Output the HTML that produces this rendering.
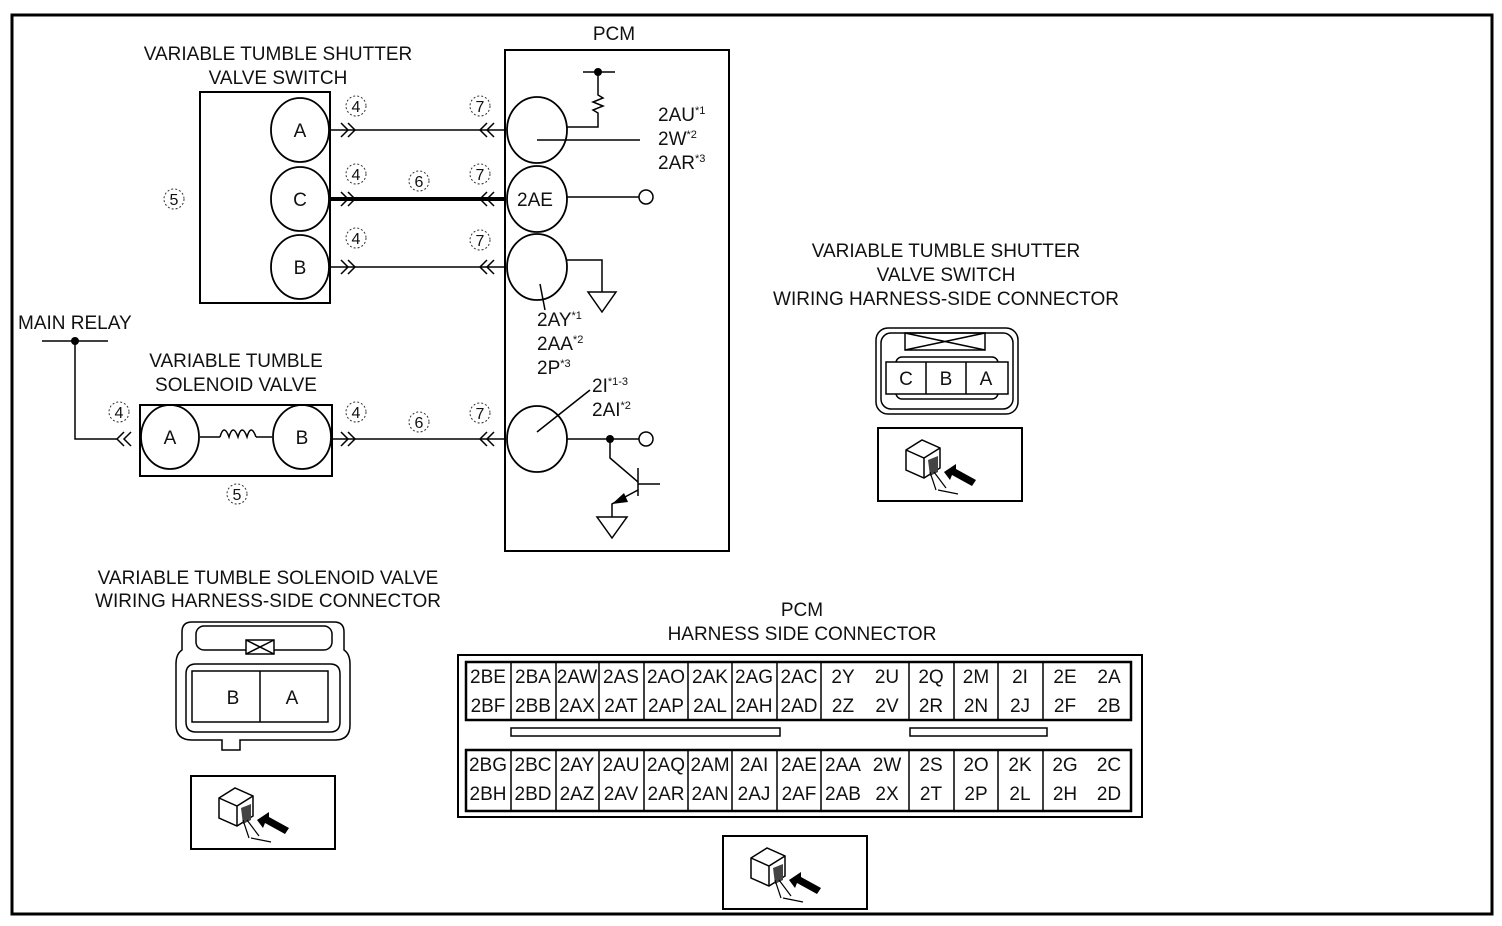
<!DOCTYPE html>
<html><head><meta charset="utf-8"><style>
html,body{margin:0;padding:0;background:#fff;}
svg{display:block;}
text{font-family:"Liberation Sans Narrow","Liberation Sans",sans-serif;font-size:19px;fill:#111;}
.c{text-anchor:middle;}
.n text{font-size:16px;}
.n circle{fill:none;stroke:#333;stroke-width:1;stroke-dasharray:2 2;}
</style></head><body>
<svg width="1502" height="926" viewBox="0 0 1502 926" xmlns="http://www.w3.org/2000/svg">
<defs>
<g id="icon">
 <rect x="0" y="0" width="144" height="73" fill="#fff" stroke="#000" stroke-width="2"/>
 <path d="M28 22 L44 12 L62 20 L62 40 L46 50 L28 42 Z" fill="#fff" stroke="#000" stroke-width="1.5"/>
 <path d="M28 22 L46 30 L62 20 M46 30 L46 50" fill="none" stroke="#000" stroke-width="1.5"/>
 <path d="M50 32 L60 28 L60 44 L52 48 Z" fill="#444"/>
 <path d="M52 44 L58 62 M56 44 L68 60 M60 62 L80 66" stroke="#000" stroke-width="1.2" fill="none"/>
 <path d="M66 44 L78 36 L78 41 L98 52 L94 58 L74 47 L72 52 Z" fill="#000"/>
</g>
<g id="ch2"><path d="M0 -7 L7 0 L0 7 M7 -7 L14 0 L7 7" fill="none" stroke="#000" stroke-width="1.5"/></g>
<g id="cl2"><path d="M14 -7 L7 0 L14 7 M7 -7 L0 0 L7 7" fill="none" stroke="#000" stroke-width="1.5"/></g>
</defs>
<rect x="12" y="15" width="1480" height="899" fill="none" stroke="#000" stroke-width="3"/>

<!-- switch -->
<text x="278" y="60" class="c">VARIABLE TUMBLE SHUTTER</text>
<text x="278" y="84" class="c">VALVE SWITCH</text>
<rect x="200" y="92" width="130" height="211" fill="none" stroke="#000" stroke-width="2"/>
<g fill="none" stroke="#000" stroke-width="1.8">
<ellipse cx="300" cy="130" rx="29" ry="32"/><ellipse cx="300" cy="199" rx="29" ry="32"/><ellipse cx="300" cy="267" rx="29" ry="32"/>
</g>
<text x="300" y="137" class="c">A</text><text x="300" y="206" class="c">C</text><text x="300" y="274" class="c">B</text>

<!-- PCM -->
<text x="614" y="40" class="c">PCM</text>
<rect x="505" y="50" width="224" height="501" fill="none" stroke="#000" stroke-width="2"/>
<g fill="none" stroke="#000" stroke-width="1.8">
<ellipse cx="537" cy="130" rx="30" ry="33"/><ellipse cx="537" cy="199" rx="30" ry="33"/><ellipse cx="537" cy="267" rx="30" ry="33"/><ellipse cx="537" cy="439" rx="30" ry="33"/>
</g>
<text x="535" y="206" class="c">2AE</text>

<!-- wires -->
<g stroke="#000" fill="none">
<line x1="330" y1="130" x2="505" y2="130" stroke-width="1.5"/>
<line x1="330" y1="199" x2="505" y2="199" stroke-width="4"/>
<line x1="330" y1="267" x2="505" y2="267" stroke-width="1.5"/>
<line x1="332" y1="439" x2="505" y2="439" stroke-width="1.5"/>
</g>
<use href="#ch2" x="341" y="130"/><use href="#ch2" x="341" y="199"/><use href="#ch2" x="341" y="267"/><use href="#ch2" x="341" y="439"/>
<use href="#cl2" x="480" y="130"/><use href="#cl2" x="480" y="199"/><use href="#cl2" x="480" y="267"/><use href="#cl2" x="480" y="439"/>
<g class="n">
<circle cx="356" cy="106" r="10"/><text x="356" y="112" class="c">4</text>
<circle cx="356" cy="174" r="10"/><text x="356" y="180" class="c">4</text>
<circle cx="356" cy="238" r="10"/><text x="356" y="244" class="c">4</text>
<circle cx="356" cy="412" r="10"/><text x="356" y="418" class="c">4</text>
<circle cx="119" cy="412" r="10"/><text x="119" y="418" class="c">4</text>
<circle cx="480" cy="106" r="10"/><text x="480" y="112" class="c">7</text>
<circle cx="480" cy="174" r="10"/><text x="480" y="180" class="c">7</text>
<circle cx="480" cy="240" r="10"/><text x="480" y="246" class="c">7</text>
<circle cx="480" cy="413" r="10"/><text x="480" y="419" class="c">7</text>
<circle cx="419" cy="181" r="10"/><text x="419" y="187" class="c">6</text>
<circle cx="419" cy="422" r="10"/><text x="419" y="428" class="c">6</text>
<circle cx="174" cy="199" r="10"/><text x="174" y="205" class="c">5</text>
<circle cx="237" cy="494" r="10"/><text x="237" y="500" class="c">5</text>
</g>

<!-- PCM internals -->
<g stroke="#000" fill="none" stroke-width="1.5">
<line x1="583" y1="72" x2="615" y2="72"/>
<path d="M598 72 L598 95 L603 98 L593 102 L603 106 L593 110 L598 113 L598 127 L567 127"/>
<line x1="537" y1="140" x2="640" y2="140"/>
<line x1="567" y1="197" x2="639" y2="197"/>
<circle cx="646" cy="197" r="7"/>
<path d="M567 260 L602 260 L602 292"/>
<path d="M588 292 L616 292 L602 312 Z"/>
<line x1="540" y1="284" x2="545" y2="310"/>
<line x1="537" y1="432" x2="590" y2="390"/>
<line x1="567" y1="439" x2="639" y2="439"/>
<circle cx="646" cy="439" r="7"/>
<path d="M610 439 L610 458 L638 482"/>
<line x1="638" y1="468" x2="638" y2="496"/>
<line x1="638" y1="484" x2="660" y2="484"/>
<path d="M638 490 L612 504 L612 517"/>
<path d="M597 517 L627 517 L612 538 Z"/>
</g>
<circle cx="598" cy="72" r="4"/>
<circle cx="610" cy="439" r="4"/>
<path d="M612 504 L624 493 L628 502 Z" fill="#000"/>
<text x="658" y="121">2AU<tspan dy="-7" font-size="11">*1</tspan></text>
<text x="658" y="145">2W<tspan dy="-7" font-size="11">*2</tspan></text>
<text x="658" y="169">2AR<tspan dy="-7" font-size="11">*3</tspan></text>
<text x="537" y="326">2AY<tspan dy="-7" font-size="11">*1</tspan></text>
<text x="537" y="350">2AA<tspan dy="-7" font-size="11">*2</tspan></text>
<text x="537" y="374">2P<tspan dy="-7" font-size="11">*3</tspan></text>
<text x="592" y="392">2I<tspan dy="-7" font-size="11">*1-3</tspan></text>
<text x="592" y="416">2AI<tspan dy="-7" font-size="11">*2</tspan></text>

<!-- main relay & solenoid -->
<text x="18" y="329">MAIN RELAY</text>
<g stroke="#000" fill="none" stroke-width="1.5">
<line x1="42" y1="341" x2="108" y2="341"/>
<path d="M75 341 L75 439 L118 439"/>
<line x1="200" y1="437" x2="220" y2="437"/>
<path d="M220 437 q4 -14 9 0 q4 -14 9 0 q4 -14 9 0 q4 -14 9 0"/>
<line x1="256" y1="437" x2="272" y2="437"/>
</g>
<circle cx="75" cy="341" r="4"/>
<use href="#cl2" x="117" y="439"/>
<text x="236" y="367" class="c">VARIABLE TUMBLE</text>
<text x="236" y="391" class="c">SOLENOID VALVE</text>
<rect x="140" y="405" width="192" height="71" fill="none" stroke="#000" stroke-width="2"/>
<ellipse cx="170" cy="437" rx="29" ry="32" fill="none" stroke="#000" stroke-width="1.8"/>
<ellipse cx="302" cy="437" rx="29" ry="32" fill="none" stroke="#000" stroke-width="1.8"/>
<text x="170" y="444" class="c">A</text><text x="302" y="444" class="c">B</text>

<!-- right connector -->
<text x="946" y="257" class="c">VARIABLE TUMBLE SHUTTER</text>
<text x="946" y="281" class="c">VALVE SWITCH</text>
<text x="946" y="305" class="c">WIRING HARNESS-SIDE CONNECTOR</text>
<g stroke="#000" fill="none" stroke-width="1.5">
<rect x="876" y="328" width="142" height="86" rx="12"/>
<rect x="881" y="333" width="132" height="76" rx="10"/>
<rect x="905" y="333" width="80" height="17"/>
<path d="M905 333 L985 350 M985 333 L905 350"/>
<rect x="896" y="357" width="102" height="42" rx="6"/>
<rect x="886" y="362" width="122" height="32" fill="#fff"/>
<line x1="926" y1="362" x2="926" y2="394"/><line x1="966" y1="362" x2="966" y2="394"/>
</g>
<text x="906" y="385" class="c">C</text><text x="946" y="385" class="c">B</text><text x="986" y="385" class="c">A</text>
<use href="#icon" x="878" y="428"/>

<!-- left connector -->
<text x="268" y="584" class="c">VARIABLE TUMBLE SOLENOID VALVE</text>
<text x="268" y="607" class="c">WIRING HARNESS-SIDE CONNECTOR</text>
<g stroke="#000" fill="none" stroke-width="1.5">
<path d="M192 622 L334 622 Q344 622 344 632 L344 650 Q350 654 350 664 L350 725 Q350 740 335 740 L240 740 L240 750 L222 750 L222 740 L192 740 Q176 740 176 725 L176 664 Q176 654 182 650 L182 632 Q182 622 192 622 Z"/>
<path d="M196 664 Q186 664 186 674 L186 722 Q186 732 196 732 L330 732 Q340 732 340 722 L340 674 Q340 664 330 664 Z"/>
<rect x="196" y="626" width="136" height="24" rx="8"/>
<rect x="246" y="640" width="28" height="14" fill="#fff"/>
<path d="M246 640 L274 654 M274 640 L246 654"/>
<rect x="192" y="671" width="136" height="51"/>
<line x1="260" y1="671" x2="260" y2="722"/>
</g>
<text x="233" y="704" class="c">B</text><text x="292" y="704" class="c">A</text>
<use href="#icon" x="191" y="776"/>

<!-- PCM table -->
<text x="802" y="616" class="c">PCM</text>
<text x="802" y="640" class="c">HARNESS SIDE CONNECTOR</text>
<rect x="458" y="655" width="684" height="162" fill="none" stroke="#000" stroke-width="2"/>
<rect x="466" y="662" width="665" height="58" fill="none" stroke="#000" stroke-width="2.5"/>
<rect x="466" y="750" width="665" height="61" fill="none" stroke="#000" stroke-width="2.5"/>
<rect x="511" y="728" width="269" height="8" fill="none" stroke="#000" stroke-width="1.5"/>
<rect x="910" y="728" width="137" height="8" fill="none" stroke="#000" stroke-width="1.5"/>
<g stroke="#000" stroke-width="1.5">
<line x1="511" y1="662" x2="511" y2="720"/><line x1="556" y1="662" x2="556" y2="720"/><line x1="599" y1="662" x2="599" y2="720"/><line x1="644" y1="662" x2="644" y2="720"/><line x1="688" y1="662" x2="688" y2="720"/><line x1="732" y1="662" x2="732" y2="720"/><line x1="777" y1="662" x2="777" y2="720"/><line x1="821" y1="662" x2="821" y2="720"/><line x1="909" y1="662" x2="909" y2="720"/><line x1="954" y1="662" x2="954" y2="720"/><line x1="998" y1="662" x2="998" y2="720"/><line x1="1043" y1="662" x2="1043" y2="720"/>
<line x1="511" y1="750" x2="511" y2="811"/><line x1="556" y1="750" x2="556" y2="811"/><line x1="599" y1="750" x2="599" y2="811"/><line x1="644" y1="750" x2="644" y2="811"/><line x1="688" y1="750" x2="688" y2="811"/><line x1="732" y1="750" x2="732" y2="811"/><line x1="777" y1="750" x2="777" y2="811"/><line x1="821" y1="750" x2="821" y2="811"/><line x1="909" y1="750" x2="909" y2="811"/><line x1="954" y1="750" x2="954" y2="811"/><line x1="998" y1="750" x2="998" y2="811"/><line x1="1043" y1="750" x2="1043" y2="811"/>
</g>
<g class="c" font-size="17">
<text x="488" y="683" class="c">2BE</text><text x="533" y="683" class="c">2BA</text><text x="577" y="683" class="c">2AW</text><text x="621" y="683" class="c">2AS</text><text x="666" y="683" class="c">2AO</text><text x="710" y="683" class="c">2AK</text><text x="754" y="683" class="c">2AG</text><text x="799" y="683" class="c">2AC</text><text x="843" y="683" class="c">2Y</text><text x="887" y="683" class="c">2U</text><text x="931" y="683" class="c">2Q</text><text x="976" y="683" class="c">2M</text><text x="1020" y="683" class="c">2I</text><text x="1065" y="683" class="c">2E</text><text x="1109" y="683" class="c">2A</text>
<text x="488" y="712" class="c">2BF</text><text x="533" y="712" class="c">2BB</text><text x="577" y="712" class="c">2AX</text><text x="621" y="712" class="c">2AT</text><text x="666" y="712" class="c">2AP</text><text x="710" y="712" class="c">2AL</text><text x="754" y="712" class="c">2AH</text><text x="799" y="712" class="c">2AD</text><text x="843" y="712" class="c">2Z</text><text x="887" y="712" class="c">2V</text><text x="931" y="712" class="c">2R</text><text x="976" y="712" class="c">2N</text><text x="1020" y="712" class="c">2J</text><text x="1065" y="712" class="c">2F</text><text x="1109" y="712" class="c">2B</text>
<text x="488" y="771" class="c">2BG</text><text x="533" y="771" class="c">2BC</text><text x="577" y="771" class="c">2AY</text><text x="621" y="771" class="c">2AU</text><text x="666" y="771" class="c">2AQ</text><text x="710" y="771" class="c">2AM</text><text x="754" y="771" class="c">2AI</text><text x="799" y="771" class="c">2AE</text><text x="843" y="771" class="c">2AA</text><text x="887" y="771" class="c">2W</text><text x="931" y="771" class="c">2S</text><text x="976" y="771" class="c">2O</text><text x="1020" y="771" class="c">2K</text><text x="1065" y="771" class="c">2G</text><text x="1109" y="771" class="c">2C</text>
<text x="488" y="800" class="c">2BH</text><text x="533" y="800" class="c">2BD</text><text x="577" y="800" class="c">2AZ</text><text x="621" y="800" class="c">2AV</text><text x="666" y="800" class="c">2AR</text><text x="710" y="800" class="c">2AN</text><text x="754" y="800" class="c">2AJ</text><text x="799" y="800" class="c">2AF</text><text x="843" y="800" class="c">2AB</text><text x="887" y="800" class="c">2X</text><text x="931" y="800" class="c">2T</text><text x="976" y="800" class="c">2P</text><text x="1020" y="800" class="c">2L</text><text x="1065" y="800" class="c">2H</text><text x="1109" y="800" class="c">2D</text>
</g>
<use href="#icon" x="723" y="836"/>
</svg>
</body></html>
